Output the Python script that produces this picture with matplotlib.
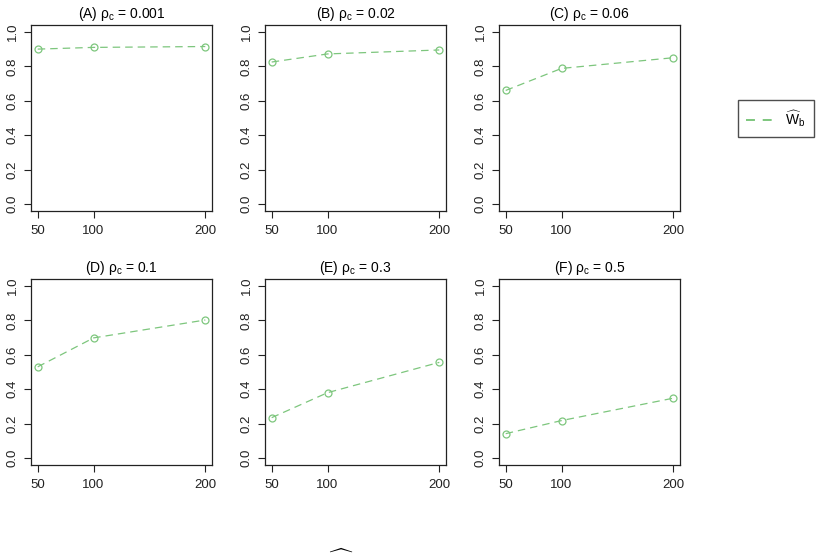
import numpy as np
import matplotlib.pyplot as plt
from matplotlib.lines import Line2D

plt.rcParams['font.family'] = ['Liberation Sans', 'DejaVu Sans']
plt.rcParams['mathtext.fontset'] = 'custom'
plt.rcParams['mathtext.rm'] = 'Liberation Sans'
plt.rcParams['mathtext.it'] = 'Liberation Sans:italic'
plt.rcParams['mathtext.sf'] = 'Liberation Sans'

# --- data
n_clusters = [50, 100, 200]
rho_labels = ['(A)', '(B)', '(C)', '(D)', '(E)', '(F)']
rho_values = ['0.001', '0.02', '0.06', '0.1', '0.3', '0.5']
power_a = [0.900, 0.910, 0.915]
power_b = [0.825, 0.872, 0.895]
power_c = [0.660, 0.788, 0.850]
power_d = [0.530, 0.698, 0.802]
power_e = [0.235, 0.380, 0.556]
power_f = [0.142, 0.218, 0.348]
power = [power_a, power_b, power_c, power_d, power_e, power_f]
yticks = [0.0, 0.2, 0.4, 0.6, 0.8, 1.0]

green = '#7DC67D'
W, H = 824, 555
fig = plt.figure(figsize=(W / 100, H / 100), dpi=100)

lefts = [31, 265, 499]
tops = [25, 279]
aw, ah = 181, 186

for i in range(6):
    r, c = divmod(i, 3)
    ax = fig.add_axes([lefts[c] / W, (H - tops[r] - ah) / H, aw / W, ah / H])
    ax.plot(n_clusters, power[i], color=green, lw=0.9, dashes=(6, 4),
            marker='o', mfc='none', mec=green, ms=5, mew=0.9)
    ax.set_xlim(50 - 0.04 * 150, 200 + 0.04 * 150)
    ax.set_ylim(-0.04, 1.04)
    ax.set_xticks(n_clusters)
    ax.set_yticks(yticks)
    ax.set_yticklabels(['%.1f' % v for v in yticks], rotation=90, va='center')
    ax.tick_params(length=5, width=0.8, labelsize=9.5, colors='#222222')
    ax.tick_params(axis='x', pad=5)
    ax.tick_params(axis='y', pad=4)
    for s in ax.spines.values():
        s.set_linewidth(0.9)
        s.set_color('#222222')
    ax.set_title('%s ρ$_{\\rm c}$ = %s' % (rho_labels[i], rho_values[i]),
                 fontsize=10, pad=5)

handle = Line2D([], [], color=green, lw=1.4, dashes=(4.6, 4.0))
fig.legend([handle], [r'$\widehat{\rm W}_{\rm b}$'], loc='upper left',
           bbox_to_anchor=(738 / W, 1 - 100 / H), frameon=True, fancybox=False,
           edgecolor='#222222', fontsize=10, handlelength=2.0,
           borderpad=0.6, borderaxespad=0)

# clipped label at the bottom edge (only its hat is visible, as in the source)
fig.text(340 / W, -0.035 - 4 / H, r'$\widehat{\rm W}$', ha='center', va='bottom',
         fontsize=17)

fig.savefig('out.png', dpi=100)
